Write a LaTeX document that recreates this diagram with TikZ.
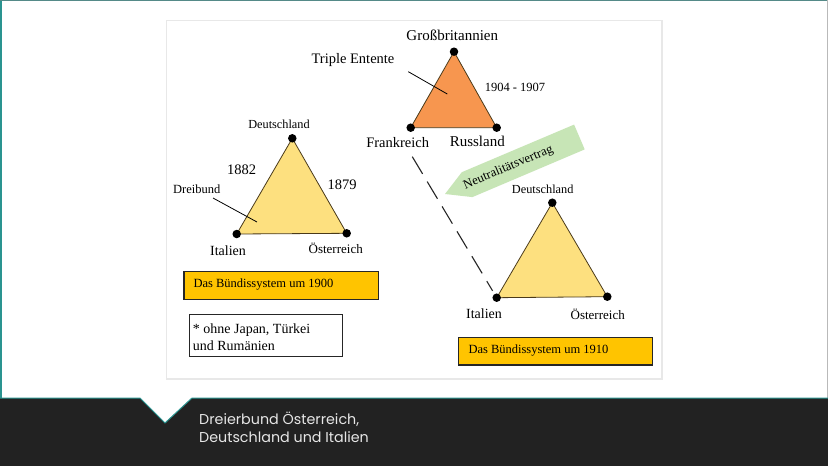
\documentclass[tikz,border=0pt]{standalone}
\usepackage{fontspec}
\setmainfont{Liberation Serif}
\newfontfamily\capfont{Poppins}
\definecolor{tealc}{HTML}{2A9490}
\definecolor{bandc}{HTML}{222222}
\definecolor{captext}{HTML}{E6E6E6}
\definecolor{yelc}{HTML}{FDE07F}
\definecolor{orgc}{HTML}{F7964F}
\definecolor{greenc}{HTML}{C7E5B6}
\definecolor{goldc}{HTML}{FFC400}
\definecolor{edgec}{HTML}{4A3A1A}
\begin{document}
\begin{tikzpicture}[x=1pt,y=-1pt,
  dot/.style={circle,fill=black,inner sep=0pt,minimum size=8.5pt},
  lbl/.style={inner sep=0pt,text=black},
  tri/.style={draw=edgec,line width=0.8pt,line join=miter},
  fs/.style={font=\fontsize{#1}{#1}\selectfont},
  goldbox/.style={draw=black!85,line width=1.2pt,fill=goldc,minimum width=194pt,minimum height=27.5pt,inner sep=0pt}
]
\useasboundingbox (0,0) rectangle (828,466);
\fill[white] (0,0) rectangle (828,466);
% frame lines
\fill[tealc] (0,0) rectangle (1.8,398);
\fill[tealc!50!gray] (0,0) rectangle (828,1.2);
\fill[gray!55] (826.5,0) rectangle (828,398);
% card
\fill[black!9] (165.5,19.5) rectangle (663,379.5);
\fill[white] (167,21) rectangle (661,377.5);
% bottom band
\fill[bandc] (0,398) -- (140,398) -- (165,423) -- (192,398) -- (828,398) -- (828,466) -- (0,466) -- cycle;
\draw[tealc,line width=1pt] (0,398) -- (140,398) -- (165,423) -- (192,398) -- (828,398);
\node[anchor=west,inner sep=0pt,text=captext,align=left,font=\capfont\fontsize{14.3}{18}\selectfont] (cap) at (199,427) {Dreierbund Österreich,\\Deutschland und Italien};

% ---- Dreibund triangle (left)
\coordinate (d1) at (292.3,138.3);
\coordinate (i1) at (236.7,234);
\coordinate (o1) at (346.7,233.3);
\filldraw[tri,fill=yelc] (d1) -- (i1) -- (o1) -- cycle;
\node[dot] (d1dot) at (d1) {};
\node[dot] (i1dot) at (i1) {};
\node[dot] (o1dot) at (o1) {};
\node[lbl,fs=12.3] (d1lbl) at (279,124) {Deutschland};
\node[lbl,fs=14.5] (y1882) at (241.7,170) {1882};
\node[lbl,fs=14.5] (y1879) at (342,185) {1879};
\node[lbl,fs=12.5] (dreibund) at (196.7,189) {Dreibund};
\node[lbl,fs=14] (i1lbl) at (228,251) {Italien};
\node[lbl,fs=13] (o1lbl) at (335.7,248) {Österreich};
\coordinate (p1a) at (213,198);
\coordinate (p1b) at (257,222);
\draw[black,line width=0.8pt] (p1a) -- (p1b);

% ---- Triple Entente triangle (top)
\coordinate (gb) at (454,51.7);
\coordinate (fr) at (410.7,127.7);
\coordinate (ru) at (496.7,127.7);
\filldraw[tri,fill=orgc] (gb) -- (fr) -- (ru) -- cycle;
\node[dot] (gbdot) at (gb) {};
\node[dot] (frdot) at (fr) {};
\node[dot] (rudot) at (ru) {};
\node[lbl,fs=15] (gblbl) at (452.3,35.7) {Großbritannien};
\node[lbl,fs=14.5] (telbl) at (353,60) {Triple Entente};
\node[lbl,fs=12.5] (yte) at (515,87.7) {1904 - 1907};
\node[lbl,fs=14.5] (frlbl) at (397.7,142.3) {Frankreich};
\node[lbl,fs=15] (rulbl) at (477.3,141.7) {Russland};
\coordinate (p2a) at (408.3,71.7);
\coordinate (p2b) at (447.3,94);
\draw[black,line width=0.8pt] (p2a) -- (p2b);

% ---- 1910 triangle (right)
\coordinate (d2) at (552.3,202.7);
\coordinate (i2) at (496.7,297.7);
\coordinate (o2) at (607.3,296.7);
\filldraw[tri,fill=yelc] (d2) -- (i2) -- (o2) -- cycle;
\node[dot] (d2dot) at (d2) {};
\node[dot] (i2dot) at (i2) {};
\node[dot] (o2dot) at (o2) {};
\node[lbl,fs=12.3] (d2lbl) at (542.7,189) {Deutschland};
\node[lbl,fs=14] (i2lbl) at (484,314) {Italien};
\node[lbl,fs=13] (o2lbl) at (597.7,314) {Österreich};

% dashed link Frankreich - Italien
\coordinate (dashA) at (412.3,156.7);
\draw[black!85,line width=1.1pt,dash pattern=on 20pt off 9pt,shorten >=8pt] (dashA) -- (i2);

% Neutralitaetsvertrag arrow
\fill[greenc] (445,194) -- (461.8,172.2) -- (574.1,124.6) -- (584.7,149.4) -- (472.4,197.1) -- cycle;
\node[lbl,fs=12.8,rotate=23] (nv) at (508.3,167.7) {Neutralitätsvertrag};

% boxes
\node[goldbox,minimum width=194.7pt] (b1900) at (281.4,285.5) {};
\node[lbl,fs=12.5,anchor=west] (t1900) at (193.3,284.3) {Das Bündissystem um 1900};
\node[goldbox] (b1910) at (555.3,351.2) {};
\node[lbl,fs=12.5,anchor=west] (t1910) at (468.3,350.7) {Das Bündissystem um 1910};
\node[draw=black!85,line width=1.2pt,fill=white,minimum width=153pt,minimum height=42.4pt,inner sep=0pt] (note) at (265.8,335.5) {};
\node[lbl,anchor=west,align=left,font=\fontsize{14}{17.7}\selectfont] (notetxt) at (192.7,337.2) {* ohne Japan, Türkei\\und Rumänien};
\end{tikzpicture}
\end{document}
